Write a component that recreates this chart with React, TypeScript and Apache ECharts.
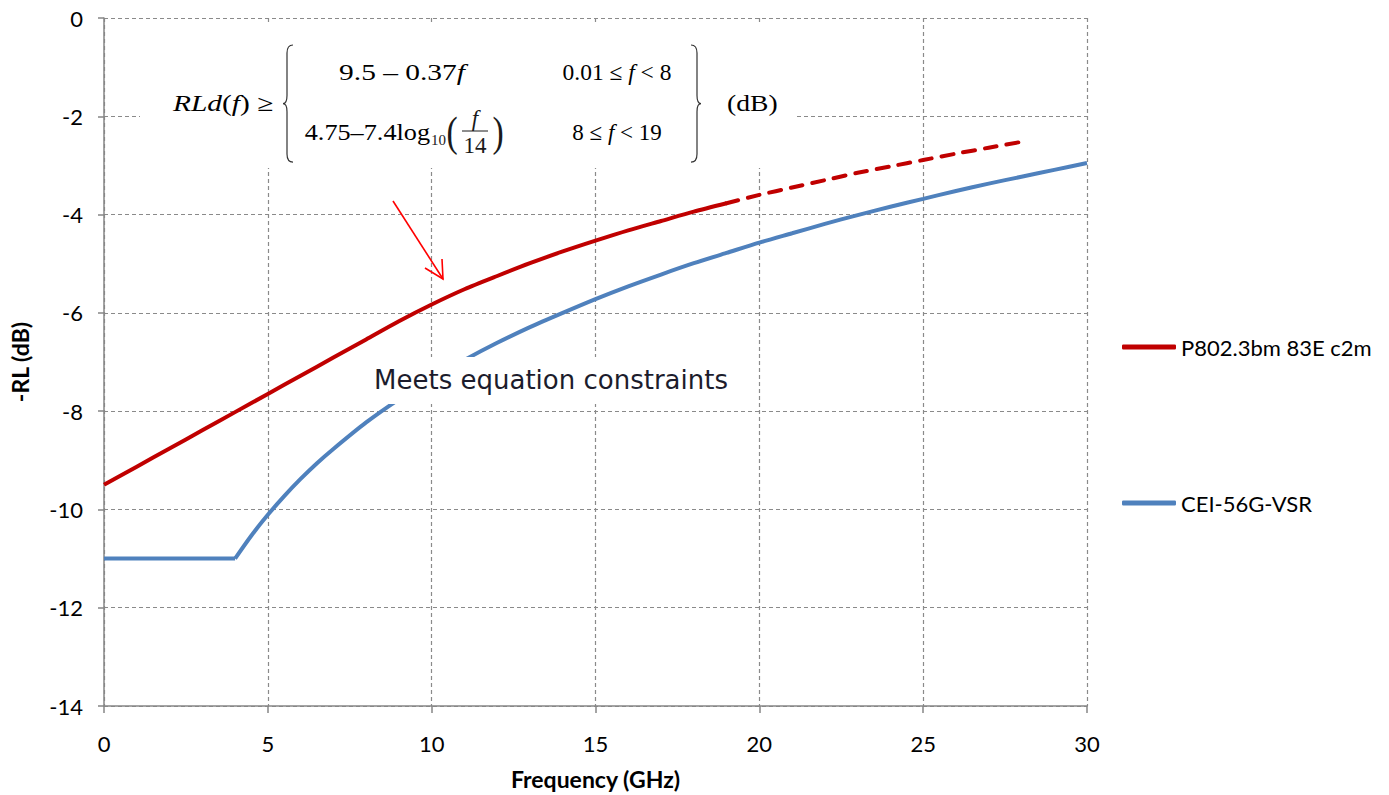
import React, { useEffect, useRef } from "react";
import * as echarts from "echarts";

// ---- data ----
const redSolidFreq = [0, 1, 2, 3, 4, 5, 6, 7, 8, 9, 10, 11, 12, 13, 14, 15, 16, 17, 18, 19];
const redSolidRL = [-9.5, -9.13, -8.76, -8.39, -8.02, -7.65, -7.28, -6.91, -6.54, -6.17, -5.83, -5.52, -5.25, -4.99, -4.75, -4.53, -4.32, -4.13, -3.94, -3.77];
const redDashFreq = [19, 20, 21, 22, 23, 24, 25, 26, 27, 28];
const redDashRL = [-3.77, -3.6, -3.45, -3.3, -3.15, -3.02, -2.89, -2.76, -2.64, -2.52];
const blueFlatFreq = [0, 4];
const blueFlatRL = [-11, -11];
const blueFreq = [4, 4.5, 5, 5.5, 6, 6.5, 7, 8, 9, 10, 11, 12, 13, 14, 15, 16, 17, 18, 19, 20, 21, 22, 23, 24, 25, 26, 27, 28, 29, 30];
const blueRL = [-11, -10.53, -10.11, -9.73, -9.38, -9.06, -8.77, -8.23, -7.76, -7.34, -6.96, -6.61, -6.29, -6.0, -5.72, -5.46, -5.22, -4.99, -4.78, -4.57, -4.38, -4.19, -4.01, -3.84, -3.68, -3.52, -3.37, -3.23, -3.09, -2.95];

const seriesNames = ["P802.3bm 83E c2m", "CEI-56G-VSR"];
const xAxisName = "Frequency (GHz)";
const yAxisName = "-RL (dB)";
const noteText = "Meets equation constraints";

const RED = "#c00000";
const BLUE = "#4f81bd";
const UI_FONT = "Lato, 'Noto Sans', sans-serif";
const SERIF = "'Liberation Serif', 'DejaVu Serif', serif";

echarts.graphic.registerShape(
  "lbrace",
  echarts.graphic.extendPath("M10,0 Q4,0 4,8 L4,50 Q4,58 0,58 Q4,58 4,66 L4,108 Q4,116 10,116", {})
);
echarts.graphic.registerShape(
  "rbrace",
  echarts.graphic.extendPath("M0,0 Q6,0 6,8 L6,50 Q6,58 10,58 Q6,58 6,66 L6,108 Q6,116 0,116", {})
);

const zip = (xs: number[], ys: number[]) => xs.map((x, i) => [x, ys[i]]);

export default function App() {
  const ref = useRef<HTMLDivElement>(null);
  useEffect(() => {
    document.body.style.margin = "0";
    const chart = echarts.init(ref.current!, null, { renderer: "svg" });
    const eqColor = "#1a1a1a";
    const eqFont = 23;
    const rich = {
      n: { fontFamily: SERIF, fontSize: eqFont, color: eqColor },
      i: { fontFamily: SERIF, fontSize: eqFont, fontStyle: "italic", color: eqColor },
    };
    const eqText = (x: number, y: number, text: string, align: string, sx: number) => ({
      type: "text",
      z: 51,
      x,
      y,
      scaleX: sx,
      style: { text, rich, align, verticalAlign: "middle" },
    });
    const splitStyle = { type: [4, 3], color: "#8a8a8a", width: 1.2 };
    const axisLineStyle = { color: "#868686", width: 1.5 };
    chart.setOption({
      animation: false,
      grid: { left: 103, right: 302, top: 18, bottom: 89, containLabel: false },
      xAxis: {
        type: "value",
        min: 0,
        max: 30,
        interval: 5,
        name: xAxisName,
        nameLocation: "middle",
        nameGap: 61,
        nameTextStyle: { fontFamily: UI_FONT, fontWeight: "bold", fontSize: 23, color: "#000" },
        axisLine: { show: true, onZero: false, lineStyle: axisLineStyle },
        axisTick: { show: true, length: 7, lineStyle: axisLineStyle },
        axisLabel: { fontFamily: UI_FONT, fontSize: 22, color: "#000", margin: 26 },
        splitLine: { show: true, lineStyle: splitStyle },
      },
      yAxis: {
        type: "value",
        min: -14,
        max: 0,
        interval: 2,
        name: yAxisName,
        nameLocation: "middle",
        nameGap: 73,
        nameTextStyle: { fontFamily: UI_FONT, fontWeight: "bold", fontSize: 23, color: "#000" },
        axisLine: { show: true, onZero: false, lineStyle: axisLineStyle },
        axisTick: { show: true, length: 6, lineStyle: axisLineStyle },
        axisLabel: { fontFamily: UI_FONT, fontSize: 22, color: "#000", margin: 21 },
        splitLine: { show: true, lineStyle: splitStyle },
      },
      legend: {
        orient: "vertical",
        left: 1117,
        top: 331,
        itemGap: 134,
        itemWidth: 54,
        itemHeight: 5,
        icon: "roundRect",
        data: seriesNames,
        textStyle: { fontFamily: UI_FONT, fontSize: 22, color: "#000" },
      },
      series: [
        {
          name: seriesNames[0],
          type: "line",
          data: zip(redSolidFreq, redSolidRL),
          showSymbol: false,
          smooth: 0.25,
          lineStyle: { color: RED, width: 4 },
          itemStyle: { color: RED },
          z: 3,
        },
        {
          name: seriesNames[0] + " (extension)",
          type: "line",
          data: zip(redDashFreq, redDashRL),
          showSymbol: false,
          smooth: 0.25,
          lineStyle: { color: RED, width: 4, type: [12, 10], cap: "round" },
          itemStyle: { color: RED },
          z: 3,
        },
        {
          name: seriesNames[1],
          type: "line",
          data: zip(blueFreq, blueRL),
          showSymbol: false,
          smooth: 0.25,
          lineStyle: { color: BLUE, width: 4 },
          itemStyle: { color: BLUE },
          z: 3,
        },
        {
          name: seriesNames[1] + " (floor)",
          type: "line",
          data: zip(blueFlatFreq, blueFlatRL),
          showSymbol: false,
          lineStyle: { color: BLUE, width: 4 },
          itemStyle: { color: BLUE },
          z: 3,
        },
      ],
      graphic: [
        // equation box
        {
          type: "rect",
          z: 50,
          shape: { x: 140, y: 24, width: 655, height: 144 },
          style: { fill: "#fff" },
        },
        eqText(173, 103, "{i|RLd}{n|(}{i|f}{n|) ≥}", "left", 1.28),
        { type: "lbrace", z: 51, x: 283, y: 45, scaleX: 1, scaleY: 1.01, style: { fill: "none", stroke: "#333", lineWidth: 1.2 } },
        { type: "rbrace", z: 51, x: 691, y: 45, scaleX: 1, scaleY: 1.01, style: { fill: "none", stroke: "#333", lineWidth: 1.2 } },
        eqText(402, 72, "{n|9.5 – 0.37}{i|f}", "center", 1.28),
        eqText(617, 72, "{n|0.01 ≤ }{i|f}{n| < 8}", "center", 1.02),
        eqText(430, 132, "{n|4.75–7.4log}", "right", 1.14),
        {
          type: "text",
          z: 51,
          x: 431,
          y: 140,
          style: { text: "10", fontFamily: SERIF, fontSize: 15, fill: eqColor, align: "left", verticalAlign: "middle" },
        },
        {
          type: "text",
          z: 51,
          x: 452,
          y: 132,
          scaleX: 0.8,
          style: { text: "(", fontFamily: SERIF, fontSize: 42, fill: eqColor, align: "center", verticalAlign: "middle" },
        },
        {
          type: "text",
          z: 51,
          x: 475,
          y: 118,
          style: { text: "f", fontFamily: SERIF, fontStyle: "italic", fontSize: eqFont, fill: eqColor, align: "center", verticalAlign: "middle" },
        },
        { type: "line", z: 51, shape: { x1: 462, y1: 131, x2: 488, y2: 131 }, style: { stroke: eqColor, lineWidth: 1 } },
        {
          type: "text",
          z: 51,
          x: 475,
          y: 145,
          style: { text: "14", fontFamily: SERIF, fontSize: eqFont, fill: eqColor, align: "center", verticalAlign: "middle" },
        },
        {
          type: "text",
          z: 51,
          x: 498,
          y: 132,
          scaleX: 0.8,
          style: { text: ")", fontFamily: SERIF, fontSize: 42, fill: eqColor, align: "center", verticalAlign: "middle" },
        },
        eqText(617, 132, "{n|8 ≤ }{i|f}{n| < 19}", "center", 1.0),
        eqText(727, 103, "{n|(dB)}", "left", 1.2),
        // note box
        {
          type: "rect",
          z: 50,
          shape: { x: 360, y: 357, width: 385, height: 47 },
          style: { fill: "#fff" },
        },
        {
          type: "text",
          z: 51,
          x: 551,
          y: 380,
          style: {
            text: noteText,
            fontFamily: "'DejaVu Sans', sans-serif",
            fontSize: 26,
            fill: "#1c1c2c",
            align: "center",
            verticalAlign: "middle",
          },
        },
        // arrow
        {
          type: "polyline",
          z: 52,
          shape: { points: [[393, 201], [443, 279]] },
          style: { stroke: "#ff0000", lineWidth: 1.6, fill: "none" },
        },
        {
          type: "polyline",
          z: 52,
          shape: { points: [[425, 268], [443, 279], [442, 259]] },
          style: { stroke: "#ff0000", lineWidth: 1.6, fill: "none" },
        },
      ],
    });
    return () => chart.dispose();
  }, []);
  return <div ref={ref} style={{ width: 1389, height: 795 }} />;
}
